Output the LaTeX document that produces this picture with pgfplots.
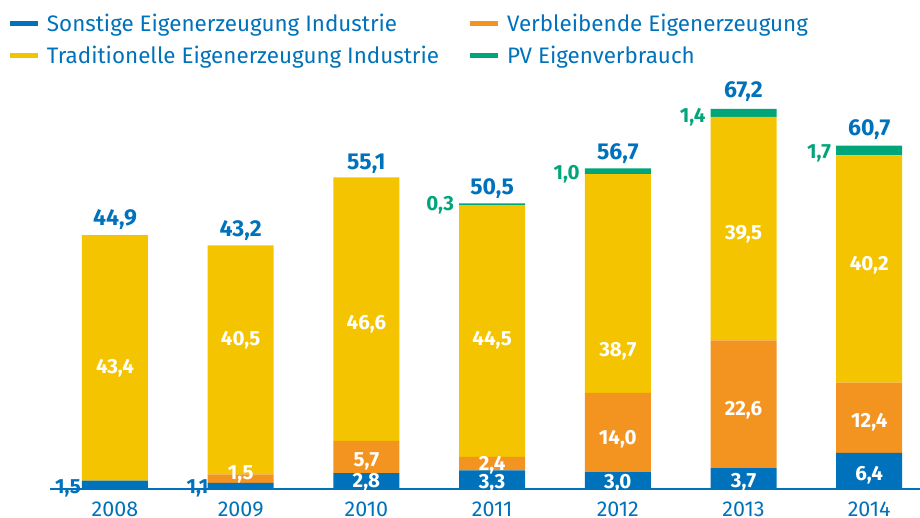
\documentclass[border=0pt]{standalone}
\usepackage{pgfplots}
\pgfplotsset{compat=1.18}
\usepackage{fontspec}
\setmainfont{Fira Sans}
\definecolor{cblue}{RGB}{0,114,187}
\definecolor{corange}{RGB}{243,148,33}
\definecolor{cyellow}{RGB}{245,196,0}
\definecolor{cgreen}{RGB}{0,166,122}
\begin{document}
\begin{tikzpicture}[x=1pt,y=1pt]
\useasboundingbox (0,0) rectangle (920,518);
\begin{axis}[
  at={(50pt,29pt)}, anchor=south west,
  scale only axis, width=870pt, height=380pt,
  xmin=-0.517, xmax=6.404, ymin=0, ymax=67.2,
  ybar stacked, bar width=66pt,
  axis y line=none, axis x line*=bottom,
  x axis line style={cblue, line width=1.5pt, -},
  xtick={0,1,2,3,4,5,6},
  xticklabels={2008,2009,2010,2011,2012,2013,2014},
  major tick length=0pt,
  xticklabel style={font=\fontsize{21.5}{24}\selectfont, text=cblue, inner sep=0pt, text depth=0pt, anchor=north, yshift=-13pt},
  clip=false,
  legend columns=2,
  legend image code/.code={\fill[#1,draw=none] (0pt,-2.5pt) rectangle (28pt,2.5pt); \path (37pt,0pt);},
  legend style={at={(axis description cs:-0.046,1.250)}, anchor=north west, draw=none, fill=none,
    inner sep=0pt, outer sep=0pt, row sep=13.5pt,
    font=\fontsize{22.4}{25}\selectfont, text=cblue,
    nodes={inner sep=0pt},
    /tikz/every even column/.append style={column sep=31pt}},
  legend cell align=left,
]
\addplot[fill=cblue, draw=none] coordinates {(0,1.5) (1,1.1) (2,2.8) (3,3.3) (4,3.0) (5,3.7) (6,6.4)};
\addlegendentry{Sonstige Eigenerzeugung Industrie}
\addplot[fill=corange, draw=none] coordinates {(0,0) (1,1.5) (2,5.7) (3,2.4) (4,14.0) (5,22.6) (6,12.4)};
\addlegendentry{Verbleibende Eigenerzeugung}
\addplot[fill=cyellow, draw=none] coordinates {(0,43.4) (1,40.5) (2,46.6) (3,44.5) (4,38.7) (5,39.5) (6,40.2)};
\addlegendentry{Traditionelle Eigenerzeugung Industrie}
\addplot[fill=cgreen, draw=none] coordinates {(0,0) (1,0) (2,0) (3,0.3) (4,1.0) (5,1.4) (6,1.7)};
\addlegendentry{PV Eigenverbrauch}
\end{axis}
\begin{axis}[
  at={(50pt,29pt)}, anchor=south west,
  scale only axis, width=870pt, height=380pt,
  xmin=-0.517, xmax=6.404, ymin=0, ymax=67.2,
  hide axis, clip=false,
  point meta=explicit,
  /pgf/number format/.cd, fixed, fixed zerofill, precision=1, use comma, assume math mode=true,
  /pgfplots/.cd,
]
% white segment labels
\addplot[draw=none, mark=none, nodes near coords, nodes near coords align=center,
  every node near coord/.style={anchor=center, inner sep=0pt, text depth=0pt, text=white, font=\bfseries\fontsize{20.5}{24}\selectfont}]
  table[meta=v] {
x y v
0 21.75 43.4
1 2.83 1.5
1 26.70 40.5
2 1.59 2.8
2 5.13 5.7
2 29.53 46.6
3 1.41 3.3
3 4.60 2.4
3 26.70 44.5
4 1.41 3.0
4 9.20 14.0
4 24.76 38.7
5 1.59 3.7
5 14.32 22.6
5 45.45 39.5
6 2.83 6.4
6 12.20 12.4
6 39.96 40.2
};
% totals
\addplot[draw=none, mark=none, nodes near coords, nodes near coords align=center,
  every node near coord/.style={anchor=center, inner sep=0pt, text depth=0pt, text=cblue, font=\bfseries\fontsize{23}{26}\selectfont}]
  table[meta=v] {
x y v
0 47.92 44.9
1 45.98 43.2
2 57.82 55.1
3 53.40 50.5
4 59.59 56.7
5 70.56 67.2
6 63.84 60.7
};
% small blue outside labels
\addplot[draw=none, mark=none, nodes near coords, nodes near coords align=east,
  every node near coord/.style={anchor=east, inner sep=0pt, text depth=0pt, text=cblue, font=\bfseries\fontsize{20.5}{24}\selectfont}]
  table[meta=v] {
x y v
-0.27 0.35 1.5
0.745 0.35 1.1
};
% green PV labels
\addplot[draw=none, mark=none, nodes near coords, nodes near coords align=east,
  every node near coord/.style={anchor=east, inner sep=0pt, text depth=0pt, text=cgreen, font=\bfseries\fontsize{20.5}{24}\selectfont}]
  table[meta=v] {
x y v
2.698 50.57 0.3
3.698 56.06 1.0
4.698 66.13 1.4
5.698 59.59 1.7
};
\end{axis}
\end{tikzpicture}
\end{document}
